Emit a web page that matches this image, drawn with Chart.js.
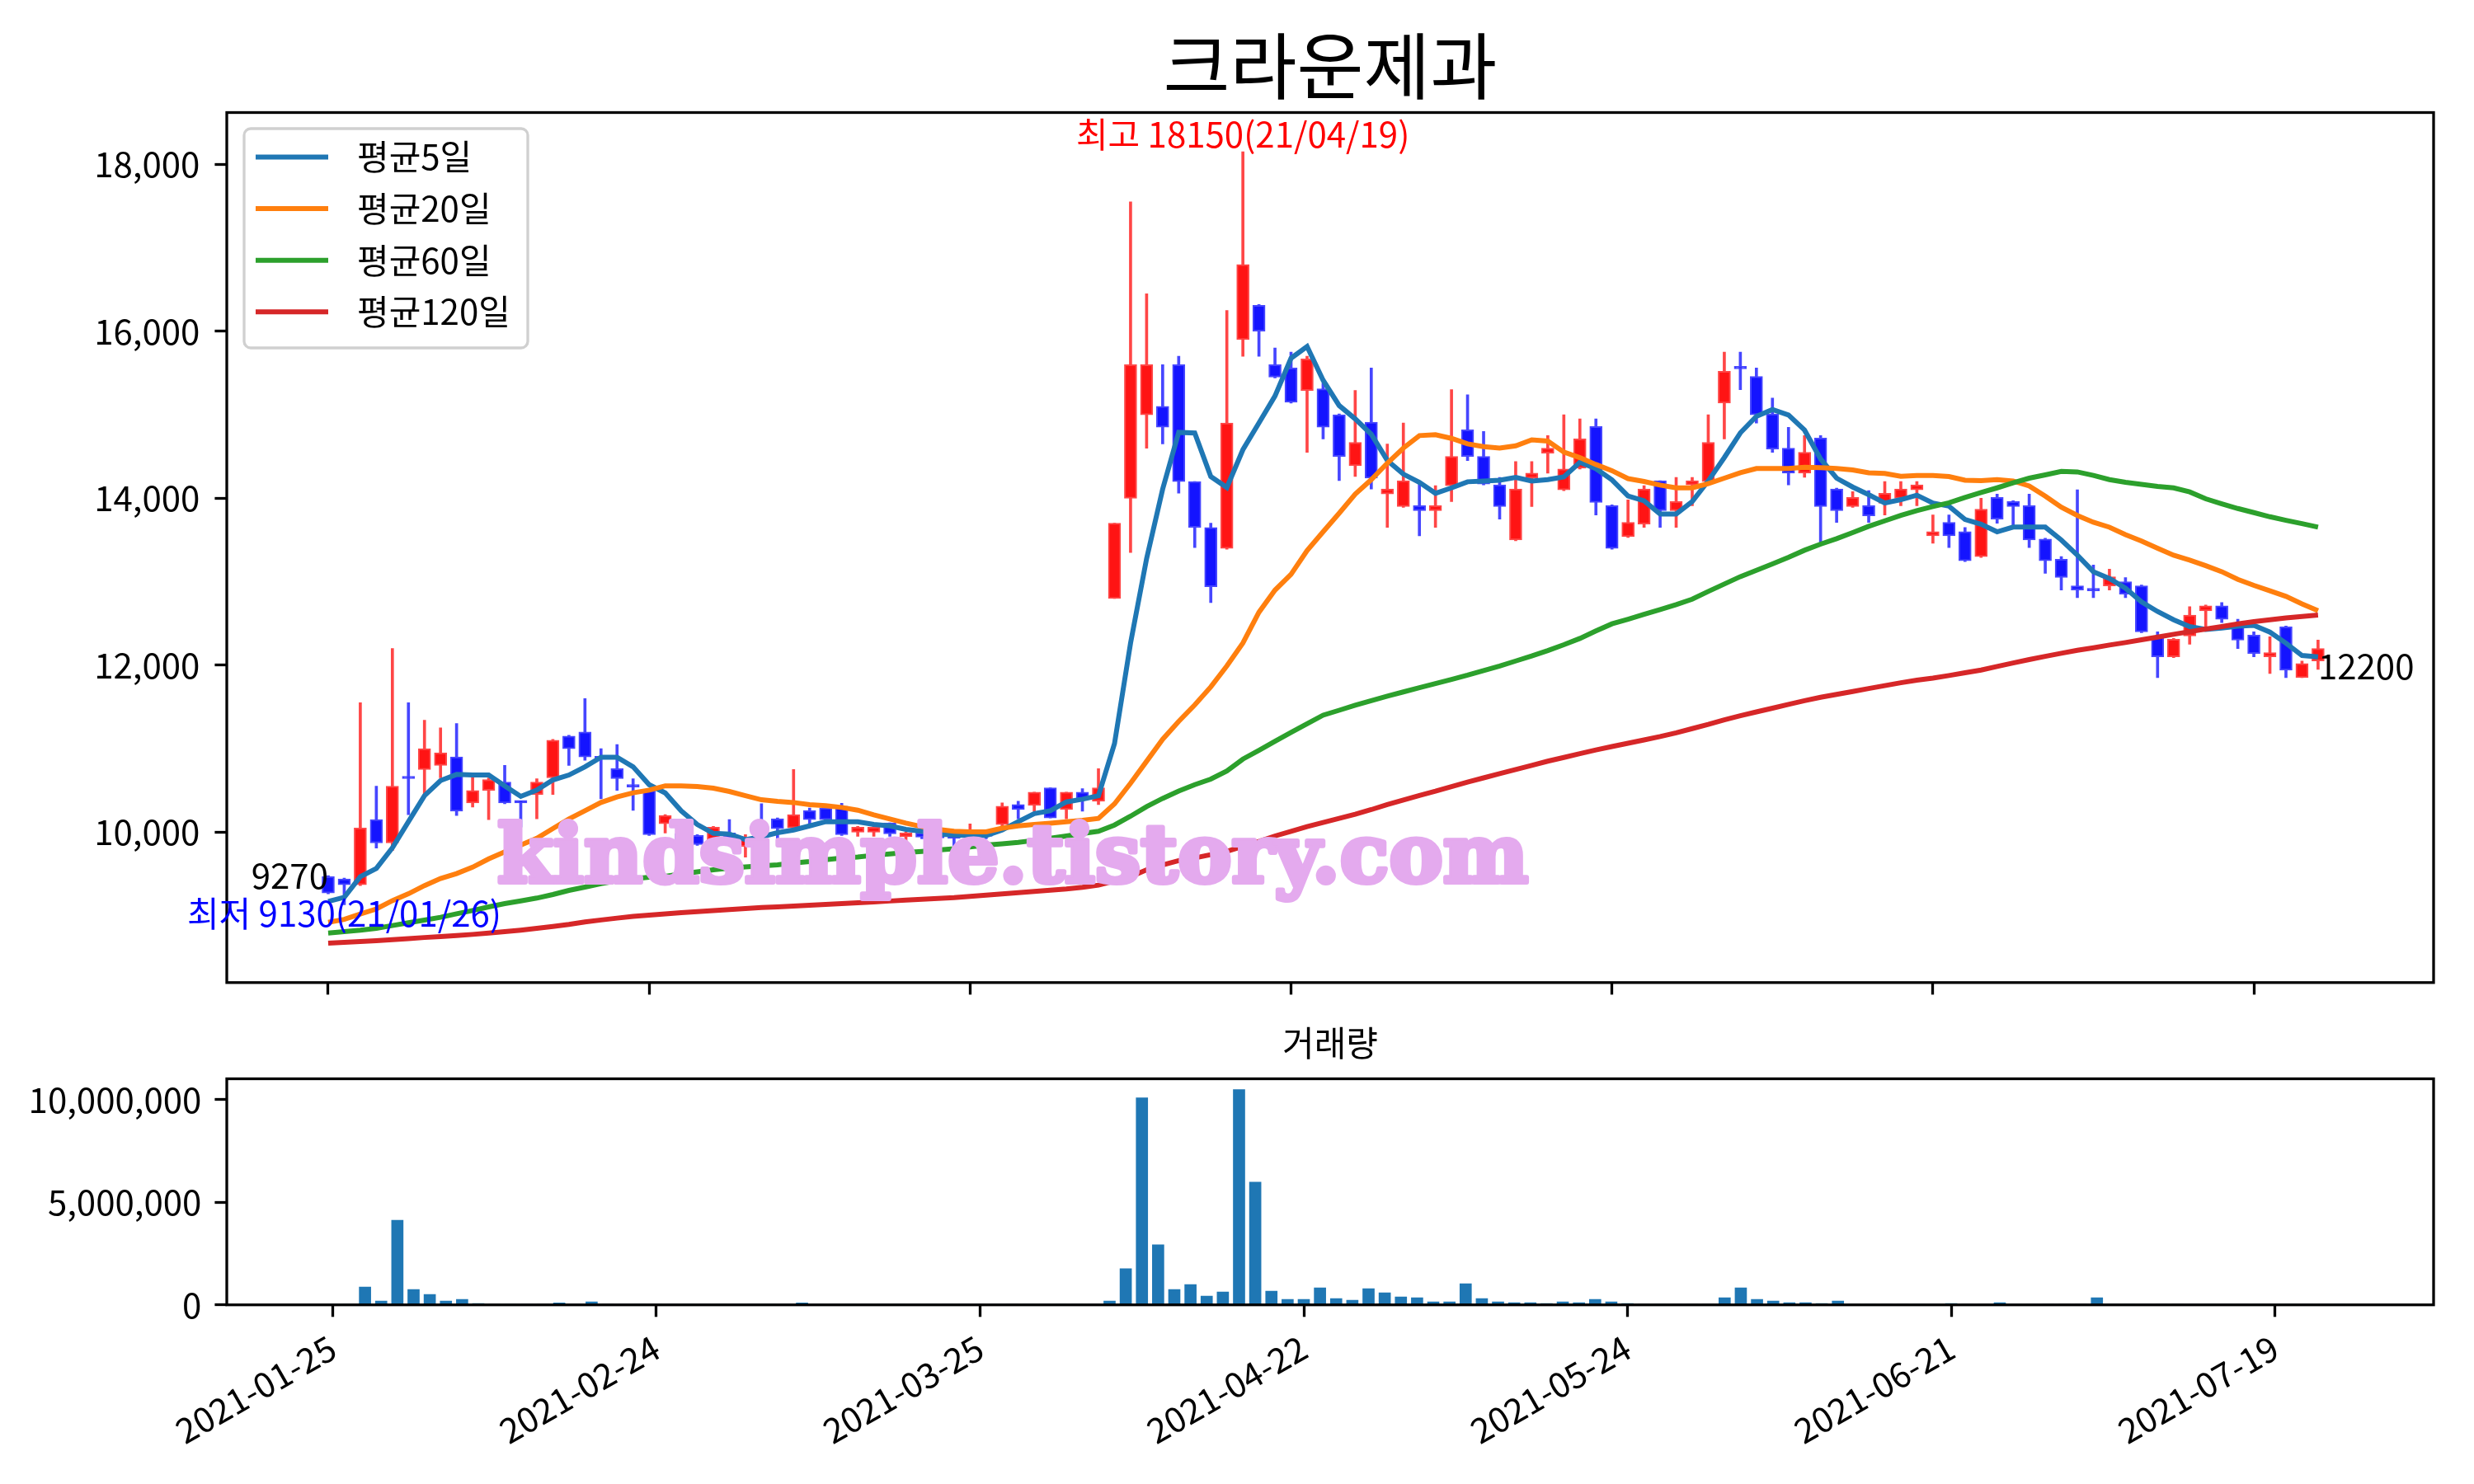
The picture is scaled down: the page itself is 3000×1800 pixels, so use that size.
<!DOCTYPE html>
<html>
<head>
<meta charset="utf-8">
<script src="https://cdn.jsdelivr.net/npm/chart.js@4.4.1/dist/chart.umd.min.js"></script>
<style>
  body { margin: 0; background: #fff; }
  #wrap { position: relative; width: 3000px; height: 1800px; background: #fff; }
  canvas { position: absolute; left: 0; }
</style>
</head>
<body>
<div id="wrap">
  <canvas id="priceChart" width="3000" height="1240" style="top:0"></canvas>
  <canvas id="volChart" width="3000" height="560" style="top:1240px"></canvas>
</div>
<script>
// 크라운제과 일봉 (2021-01-25 ~ 2021-07-23), 값은 그림에서 읽음
const tickDates = ['2021-01-25', '2021-02-24', '2021-03-25', '2021-04-22', '2021-05-24', '2021-06-21', '2021-07-19'];
const tickStep = 20;
const hiDate = '21/04/19';
const loDate = '21/01/26';

const opens = [9466,9440,9370,10150,9870,10660,10750,10800,10900,10350,
  10500,10600,10360,10450,10650,11150,11200,10900,10760,10560,
  10500,10100,9980,9960,9850,9990,9830,10000,10160,10050,
  10260,10290,10310,10000,10000,10110,9945,9990,9980,9935,
  9940,10000,10090,10330,10320,10530,10270,10480,10370,12800,
  14000,15000,15100,15600,14200,13650,13400,15900,16310,15600,
  15560,15290,15310,15000,14390,14910,14050,13900,13910,13850,
  14150,14820,14500,14160,13500,14240,14540,14100,14360,14860,
  13910,13540,13690,14210,13850,14160,14200,15140,15560,15460,
  15010,14600,14300,14720,14110,13900,13910,13940,14000,14100,
  13550,13710,13600,13300,14010,13960,13910,13510,13270,12950,
  12900,12950,13000,12950,12340,12100,12350,12650,12710,12460,
  12360,12100,12460,11850,12050];
const highs = [9480,9450,11550,10550,12200,11550,11340,11250,11300,10680,
  10650,10800,10370,10640,11110,11160,11600,11000,11050,10640,
  10520,10210,10100,9970,10070,10150,9970,10340,10170,10750,
  10290,10330,10345,10070,10070,10110,10000,10000,9990,9940,
  10100,10010,10350,10370,10480,10530,10480,10520,10760,13700,
  17550,16450,15600,15700,14200,13700,16250,18150,16320,15800,
  15750,15700,15380,15010,15290,15560,14650,14900,14190,14150,
  15300,15240,14800,14250,14440,14440,14750,15000,14950,14950,
  13920,13980,14150,14210,14250,14250,15000,15750,15750,15560,
  15200,14850,14750,14750,14120,14080,14090,14200,14200,14200,
  13800,13800,13650,14000,14050,13970,14050,13520,13300,14100,
  13200,13150,13050,12960,12400,12320,12700,12720,12750,12550,
  12400,12340,12470,12050,12300];
const lows = [9260,9130,9360,9810,9780,10210,10450,10650,10200,10300,
  10150,10340,10060,10160,10450,10800,10860,10400,10500,10260,
  9960,9990,9730,9840,9840,9890,9700,9850,9850,10040,
  10090,10140,9960,9950,9950,9950,9880,9920,9900,9830,
  9880,9920,10060,10160,10250,10170,10160,10250,10330,12800,
  13350,14600,14650,14060,13410,12750,13390,15700,15700,15440,
  15140,14550,14710,14210,14260,14110,13650,13890,13550,13650,
  13960,14450,14160,13750,13490,13900,14300,14090,14350,13800,
  13390,13530,13650,13650,13650,13910,14190,14710,15300,14900,
  14550,14160,14250,13470,13710,13890,13710,13800,13910,13910,
  13460,13410,13240,13290,13700,13680,13410,13100,12900,12810,
  12810,12900,12810,12390,11850,12090,12250,12460,12510,12200,
  12100,11900,11850,11850,11950];
const closes = [9270,9370,10050,9870,10550,10640,11000,10950,10250,10500,
  10630,10350,10350,10600,11100,11000,10900,10880,10640,10540,
  9970,10200,9830,9850,10060,9900,9910,9990,10040,10210,
  10150,10150,9970,10060,10060,9980,9990,9940,9930,9925,
  9950,9950,10310,10270,10480,10170,10480,10400,10530,13700,
  15600,15600,14850,14200,13650,12940,14900,16800,16000,15450,
  15150,15670,14850,14500,14670,14240,14110,14210,13850,13910,
  14500,14500,14170,13900,14110,14300,14600,14350,14710,13950,
  13400,13710,14110,13850,13960,14210,14670,15520,15550,15000,
  14590,14300,14550,13900,13850,14010,13790,14060,14110,14160,
  13600,13550,13250,13870,13750,13900,13500,13250,13050,12900,
  12890,13060,12850,12400,12100,12310,12600,12710,12550,12300,
  12140,12150,11940,12020,12200];
const volumes = [8000,8000,870000,190000,4130000,750000,510000,190000,270000,70000,
  30000,8000,8000,30000,100000,8000,150000,30000,8000,8000,
  30000,8000,8000,8000,8000,8000,8000,8000,8000,100000,
  8000,8000,8000,8000,8000,8000,8000,8000,8000,8000,
  8000,8000,30000,8000,8000,8000,8000,8000,190000,1760000,
  10100000,2930000,750000,990000,430000,630000,10500000,5990000,670000,270000,
  270000,830000,310000,230000,790000,590000,390000,350000,150000,150000,
  1030000,310000,150000,110000,110000,70000,150000,110000,270000,150000,
  70000,30000,8000,30000,30000,30000,350000,830000,270000,190000,
  110000,110000,70000,190000,30000,8000,30000,30000,8000,8000,
  70000,30000,30000,110000,8000,8000,30000,30000,30000,350000,
  8000,8000,8000,30000,30000,8000,8000,8000,8000,8000,
  8000,8000,8000,8000,8000];
const ma5 = [9170,9219,9466,9565,9812,10125,10437,10618,10691,10684,
  10684,10553,10428,10503,10625,10684,10783,10898,10898,10783,
  10569,10470,10255,10092,9986,9977,9911,9944,9993,10026,
  10075,10125,10125,10125,10092,10075,10033,10010,9977,9967,
  9960,9960,10026,10125,10223,10256,10362,10395,10437,11061,
  12265,13277,14109,14789,14781,14260,14128,14581,14902,15224,
  15677,15817,15413,15110,14950,14766,14453,14289,14190,14059,
  14124,14197,14206,14216,14249,14206,14223,14256,14430,14354,
  14220,14026,13970,13811,13811,13960,14207,14487,14783,14981,
  15063,14997,14816,14470,14240,14134,14042,13943,13983,14036,
  13943,13905,13745,13688,13598,13654,13654,13654,13499,13318,
  13120,13038,12923,12758,12643,12544,12462,12429,12445,12468,
  12478,12396,12264,12116,12100];
const ma20 = [8920,8955,9020,9080,9180,9262,9360,9445,9503,9580,
  9680,9763,9845,9927,10043,10158,10256,10355,10421,10471,
  10503,10555,10553,10546,10526,10487,10437,10388,10368,10355,
  10329,10316,10296,10263,10207,10158,10108,10066,10033,10010,
  10003,10003,10048,10075,10092,10108,10125,10141,10164,10339,
  10586,10849,11113,11327,11524,11740,11990,12265,12634,12899,
  13088,13372,13598,13820,14050,14223,14420,14601,14750,14760,
  14717,14651,14618,14601,14628,14700,14684,14552,14486,14404,
  14330,14235,14200,14157,14124,14124,14174,14240,14305,14355,
  14355,14355,14371,14365,14355,14338,14305,14296,14263,14273,
  14273,14260,14215,14210,14222,14206,14147,14025,13893,13794,
  13712,13653,13564,13488,13400,13317,13258,13192,13120,13028,
  12956,12890,12824,12735,12653];
const ma60 = [8792,8808,8825,8848,8881,8914,8947,8980,9022,9062,
  9105,9144,9177,9210,9253,9302,9342,9384,9417,9440,
  9460,9470,9500,9525,9550,9568,9583,9597,9608,9630,
  9647,9670,9690,9703,9723,9740,9756,9769,9786,9800,
  9822,9845,9860,9878,9901,9927,9954,9983,10010,10085,
  10191,10306,10404,10493,10569,10635,10733,10875,10980,11089,
  11194,11299,11401,11460,11520,11575,11630,11680,11730,11780,
  11830,11880,11935,11990,12050,12110,12175,12245,12320,12410,
  12495,12551,12610,12666,12725,12791,12883,12972,13061,13136,
  13213,13291,13377,13450,13515,13588,13663,13729,13795,13851,
  13900,13945,14009,14068,14124,14184,14240,14279,14322,14315,
  14273,14223,14190,14167,14141,14124,14075,13993,13933,13877,
  13828,13778,13735,13696,13653];
const ma120 = [8670,8680,8690,8700,8712,8725,8738,8750,8762,8775,
  8790,8808,8826,8848,8870,8895,8925,8948,8970,8990,
  9005,9020,9035,9048,9060,9072,9085,9097,9105,9115,
  9125,9135,9145,9155,9165,9175,9185,9195,9205,9215,
  9230,9245,9260,9275,9290,9305,9320,9340,9365,9415,
  9467,9549,9608,9658,9691,9730,9770,9829,9888,9954,
  10010,10066,10115,10165,10215,10270,10330,10385,10440,10490,
  10545,10600,10650,10700,10750,10800,10850,10895,10940,10985,
  11025,11065,11105,11145,11190,11240,11290,11345,11395,11440,
  11485,11530,11575,11615,11650,11685,11720,11755,11790,11820,
  11845,11876,11909,11942,11985,12027,12067,12106,12143,12179,
  12208,12241,12271,12304,12337,12370,12402,12432,12462,12494,
  12521,12544,12567,12583,12600];
const priceTicks = [10000, 12000, 14000, 16000, 18000];
const volumeTicks = [0, 5000000, 10000000];

const FONT = "'Noto Sans CJK KR', 'DejaVu Sans', sans-serif";
Chart.defaults.font.family = FONT;
Chart.defaults.font.size = 42;
Chart.defaults.color = '#000';

const RED = '#ff1414', RED_EDGE = '#ff4646';
const BLUE = '#1414ff', BLUE_EDGE = '#4646ff';
const maSeries = [
  { label: '평균5일', data: ma5, color: '#1f77b4' },
  { label: '평균20일', data: ma20, color: '#ff7f0e' },
  { label: '평균60일', data: ma60, color: '#2ca02c' },
  { label: '평균120일', data: ma120, color: '#d62728' },
];

const idx = closes.map((_, i) => i);
const isUp = i => closes[i] >= opens[i];
const tickIdx = tickDates.map((_, k) => k * tickStep);

// 바 차트는 기본으로 grid offset이 켜져 있어서 끈다
const tickGrid = { offset: false, drawOnChartArea: false, drawTicks: true, tickLength: 14.6, tickWidth: 3.3, tickColor: '#000' };

function drawFrame(ctx, a) {
  ctx.save();
  ctx.strokeStyle = '#000';
  ctx.lineWidth = 3.3;
  ctx.strokeRect(a.left, a.top, a.right - a.left, a.bottom - a.top);
  ctx.restore();
}

const priceDecor = {
  id: 'priceDecor',
  afterDatasetsDraw(chart) {
    const { ctx } = chart;
    ctx.save();
    // 워터마크
    const text = 'kindsimple.tistory.com';
    ctx.font = 'bold 96px "DejaVu Serif"';
    const w = ctx.measureText(text).width;
    const size = 96 * 1250 / w;
    ctx.font = 'bold ' + size.toFixed(1) + 'px "DejaVu Serif"';
    ctx.fillStyle = '#e4aaee';
    ctx.strokeStyle = '#e4aaee';
    ctx.lineWidth = 6;
    ctx.lineJoin = 'round';
    ctx.textAlign = 'left';
    ctx.textBaseline = 'alphabetic';
    ctx.strokeText(text, 603, 1070);
    ctx.fillText(text, 603, 1070);
    ctx.restore();
  },
  afterDraw(chart) {
    const { ctx, chartArea: a, scales: { x, y } } = chart;
    drawFrame(ctx, a);
    ctx.save();
    // 제목
    ctx.font = '88px ' + FONT;
    ctx.fillStyle = '#000';
    ctx.textAlign = 'center';
    ctx.textBaseline = 'middle';
    ctx.fillText('크라운제과', (a.left + a.right) / 2, 80);

    // 범례
    const bx = a.left + 21, by = a.top + 19.5, bw = 344, bh = 266;
    ctx.beginPath();
    ctx.roundRect(bx, by, bw, bh, 8);
    ctx.fillStyle = 'rgba(255,255,255,0.8)';
    ctx.fill();
    ctx.strokeStyle = '#d0d0d0';
    ctx.lineWidth = 3.3;
    ctx.stroke();
    ctx.font = '42px ' + FONT;
    ctx.textAlign = 'left';
    ctx.textBaseline = 'middle';
    maSeries.forEach((s, k) => {
      const ly = by + 34.5 + 62.6 * k;
      ctx.strokeStyle = s.color;
      ctx.lineWidth = 6;
      ctx.beginPath();
      ctx.moveTo(bx + 14, ly);
      ctx.lineTo(bx + 102, ly);
      ctx.stroke();
      ctx.fillStyle = '#000';
      ctx.fillText(s.label, bx + 137, ly);
    });

    // 최고/최저/시작/끝 표시
    const maxHigh = Math.max(...highs);
    const minLow = Math.min(...lows);
    const hiIdx = highs.indexOf(maxHigh);
    const loIdx = lows.indexOf(minLow);
    const last = closes.length - 1;
    ctx.font = '42px ' + FONT;
    ctx.textAlign = 'center';
    ctx.textBaseline = 'bottom';
    ctx.fillStyle = '#ff0000';
    ctx.fillText('최고 ' + maxHigh + '(' + hiDate + ')', x.getPixelForValue(hiIdx), y.getPixelForValue(maxHigh));
    ctx.textBaseline = 'top';
    ctx.fillStyle = '#0000ff';
    ctx.fillText('최저 ' + minLow + '(' + loDate + ')', x.getPixelForValue(loIdx), y.getPixelForValue(minLow) - 10);
    ctx.fillStyle = '#000';
    ctx.textAlign = 'right';
    ctx.textBaseline = 'bottom';
    ctx.fillText(String(closes[0]), x.getPixelForValue(0), y.getPixelForValue(closes[0]));
    ctx.textAlign = 'left';
    ctx.textBaseline = 'top';
    ctx.fillText(String(closes[last]), x.getPixelForValue(last), y.getPixelForValue(closes[last]));
    ctx.restore();
  }
};

const volDecor = {
  id: 'volDecor',
  afterDraw(chart) {
    const { ctx, chartArea: a } = chart;
    drawFrame(ctx, a);
    ctx.save();
    ctx.font = '42px ' + FONT;
    ctx.fillStyle = '#000';
    ctx.textAlign = 'center';
    ctx.textBaseline = 'middle';
    ctx.fillText('거래량', (a.left + a.right) / 2, a.top - 43);
    ctx.restore();
  }
};

const lineSets = maSeries.map((s, k) => ({
  type: 'line',
  label: s.label,
  data: idx.map(i => ({ x: i, y: s.data[i] })),
  borderColor: s.color,
  borderWidth: 6,
  pointRadius: 0,
  tension: 0,
  order: 3 - k,
}));

new Chart(document.getElementById('priceChart').getContext('2d'), {
  type: 'bar',
  data: {
    datasets: [
      ...lineSets,
      {
        label: 'body',
        data: idx.map(i => ({ x: i, y: [opens[i], closes[i]] })),
        backgroundColor: c => isUp(c.dataIndex) ? RED : BLUE,
        borderColor: c => isUp(c.dataIndex) ? RED_EDGE : BLUE_EDGE,
        borderWidth: 2,
        borderSkipped: false,
        barThickness: 15,
        minBarLength: 3,
        grouped: false,
        order: 4,
      },
      {
        label: 'wick',
        data: idx.map(i => ({ x: i, y: [lows[i], highs[i]] })),
        backgroundColor: c => isUp(c.dataIndex) ? RED_EDGE : BLUE_EDGE,
        borderWidth: 0,
        barThickness: 3,
        grouped: false,
        order: 5,
      },
    ],
  },
  options: {
    responsive: false,
    animation: false,
    devicePixelRatio: 1,
    layout: { autoPadding: false, padding: { left: 0, top: 136.5, right: 49, bottom: 0 } },
    plugins: { legend: { display: false }, tooltip: { enabled: false } },
    scales: {
      x: {
        type: 'linear',
        min: -6.32,
        max: 131.2,
        offset: false,
        afterBuildTicks: s => { s.ticks = tickIdx.map(v => ({ value: v })); },
        afterFit: s => { s.height = 1240 - 1191.8; },
        ticks: { autoSkip: false, maxRotation: 0, callback: () => '' },
        grid: tickGrid,
        border: { display: false },
      },
      y: {
        min: 8198,
        max: 18620,
        afterBuildTicks: s => { s.ticks = priceTicks.map(v => ({ value: v })); },
        afterFit: s => { s.width = 275; },
        ticks: { padding: 18, callback: v => v.toLocaleString('en-US') },
        grid: tickGrid,
        border: { display: false },
      },
    },
  },
  plugins: [priceDecor],
});

new Chart(document.getElementById('volChart').getContext('2d'), {
  type: 'bar',
  data: {
    datasets: [{
      label: '거래량',
      data: idx.map(i => ({ x: i, y: volumes[i] })),
      backgroundColor: '#1f77b4',
      borderWidth: 0,
      barThickness: 14,
    }],
  },
  options: {
    responsive: false,
    animation: false,
    devicePixelRatio: 1,
    layout: { autoPadding: false, padding: { left: 0, top: 1308.5 - 1240, right: 49, bottom: 0 } },
    plugins: { legend: { display: false }, tooltip: { enabled: false } },
    scales: {
      x: {
        type: 'linear',
        min: -6.54,
        max: 129.8,
        offset: false,
        afterBuildTicks: s => { s.ticks = tickIdx.map(v => ({ value: v })); },
        afterFit: s => { s.height = 560 - (1582.7 - 1240); },
        ticks: {
          autoSkip: false, minRotation: 30, maxRotation: 30, padding: 12,
          callback: v => tickDates[Math.round(v / tickStep)] || '',
        },
        grid: tickGrid,
        border: { display: false },
      },
      y: {
        min: 0,
        max: 11025000,
        afterBuildTicks: s => { s.ticks = volumeTicks.map(v => ({ value: v })); },
        afterFit: s => { s.width = 275; },
        ticks: { padding: 16, callback: v => v.toLocaleString('en-US') },
        grid: tickGrid,
        border: { display: false },
      },
    },
  },
  plugins: [volDecor],
});
</script>
</body>
</html>
